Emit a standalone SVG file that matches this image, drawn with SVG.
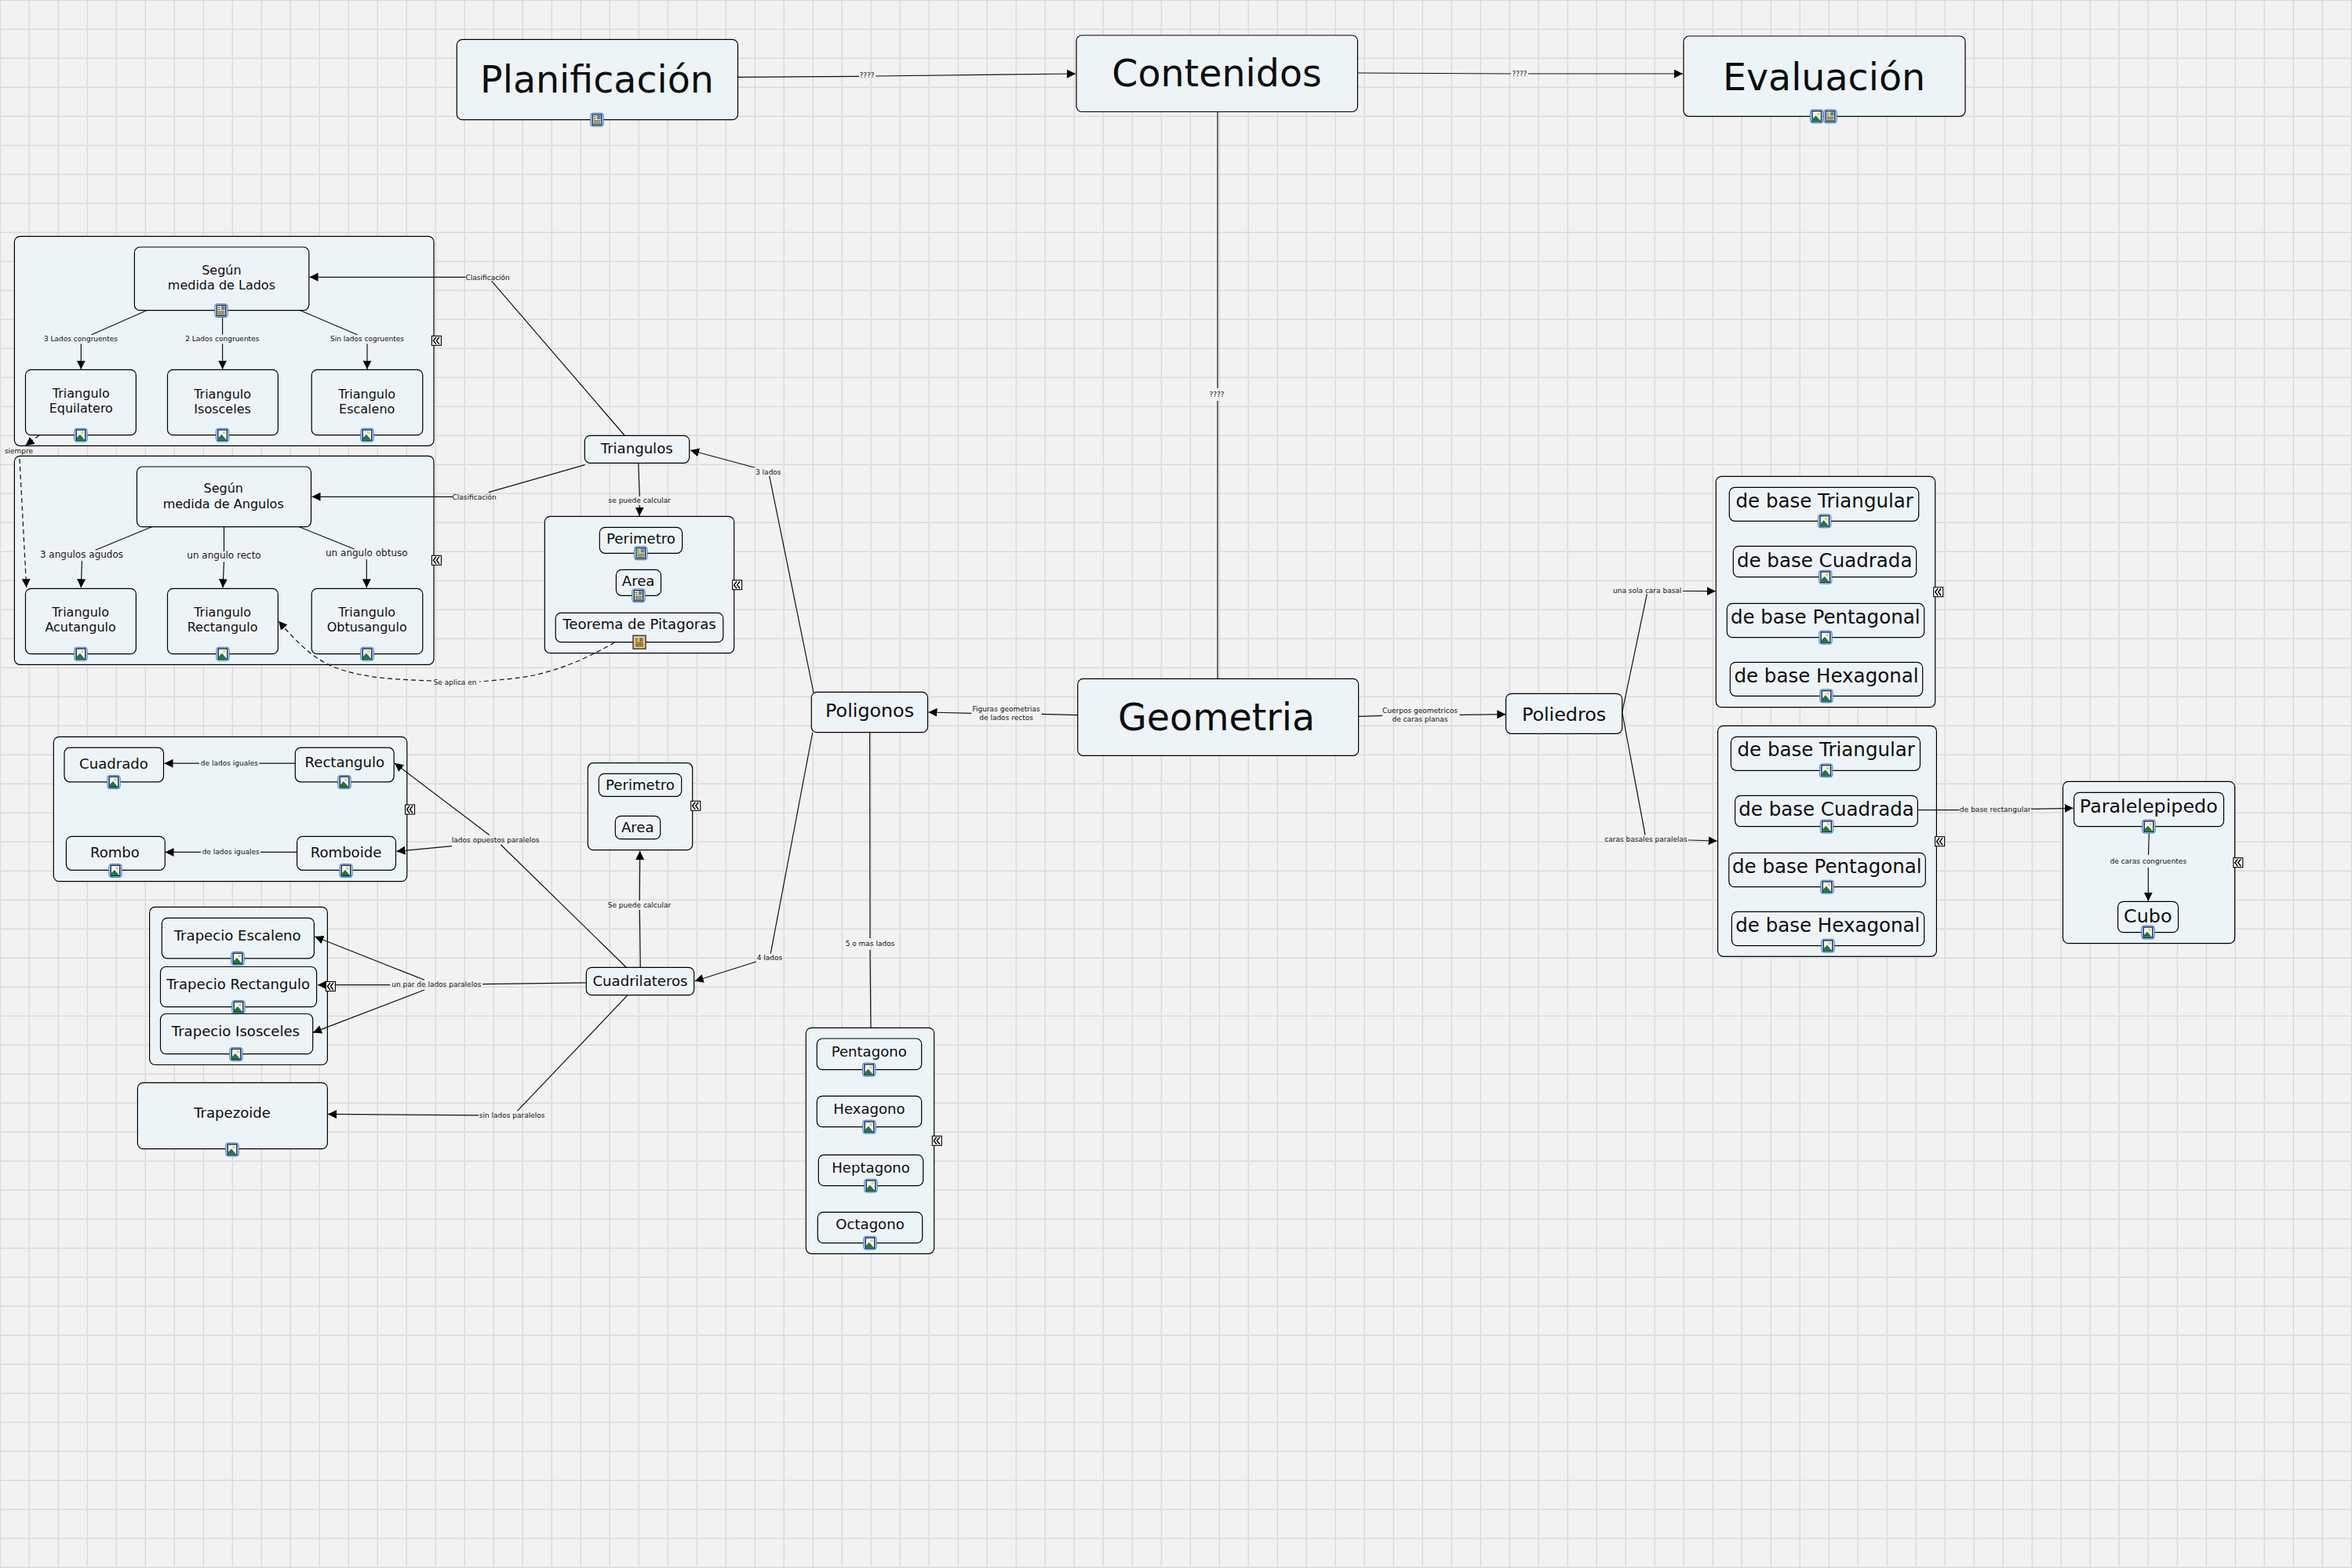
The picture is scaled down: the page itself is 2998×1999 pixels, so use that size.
<svg xmlns="http://www.w3.org/2000/svg" width="2998" height="1999" viewBox="0 0 2998 1999">
<style>
text{font-family:"DejaVu Sans",Verdana,sans-serif;text-anchor:middle;fill:#0d0d0d}
.n{fill:#edf4f7;stroke:#000;stroke-width:1.2}
.c path,.c line{fill:none;stroke:#111;stroke-width:1.2}
.a{marker-end:url(#arrow)}
.d{stroke-dasharray:6 4}
.t46{font-size:47.5px}.t25{font-size:24.5px}.t23{font-size:23.8px}.t18{font-size:18.1px}.t16{font-size:16px}.t12{font-size:12px;fill:#1a1a1a}.t9{font-size:9px;fill:#111}
</style>
<defs>
<pattern id="grid" width="37" height="37" patternUnits="userSpaceOnUse">
<rect x="0" y="0" width="1" height="37" fill="#d9d9d9"/><rect x="36" y="0" width="1" height="37" fill="#e8e8e8"/>
<rect x="0" y="0" width="37" height="1" fill="#d9d9d9"/><rect x="0" y="36" width="37" height="1" fill="#e8e8e8"/>
</pattern>
<marker id="arrow" markerUnits="userSpaceOnUse" markerWidth="12" markerHeight="12" refX="11" refY="5.500" orient="auto"><path d="M0 0L11 5.500L0 11Z" fill="#000"/></marker>
<g id="img"><rect x="-8.200" y="-8.500" width="16.400" height="17" rx="3" fill="#cfe2f7" stroke="#3d7fd6" stroke-width="1"/><rect x="-5.800" y="-6.700" width="11.600" height="13.400" fill="#f4f8fc" stroke="#0f2a55" stroke-width="1.400"/><circle cx="2" cy="-3" r="1.900" fill="#f3d34a"/><path d="M-5 6L-5 3L-1 -1L5 6Z" fill="#1f7a30"/></g>
<g id="note"><rect x="-8.200" y="-8.500" width="16.400" height="17" rx="3" fill="#cfe2f7" stroke="#3d7fd6" stroke-width="1"/><rect x="-5.800" y="-6.700" width="11.600" height="13.400" fill="#fdf6b8" stroke="#0f2a55" stroke-width="1.300"/><rect x="-.200" y="-5.700" width="4.800" height="5" fill="#5f7fa8"/><path d="M-4.500 -4H-1.500M-4.500 -1.500H-1.500M-4.500 1H4.500M-4.500 3H4.500M-4.500 5H4.500" stroke="#222" stroke-width=".9" fill="none"/></g>
<g id="gold"><rect x="-8" y="-8.500" width="16" height="17" fill="#f3c765" stroke="#1a2a4a" stroke-width="1.300"/><rect x="0" y="-5.500" width="4.500" height="5" fill="#6f6f85"/><path d="M-5 -4H-2M-5 -1.500H-2M-5 1H5M-5 3H5M-5 5H5" stroke="#222" stroke-width=".9" fill="none"/></g>
<g id="col"><rect x="-6" y="-6" width="12" height="12" fill="#fff" stroke="#000" stroke-width="1.100"/><path d="M-.5 -4.500L-4 0L-.5 4.500M3.500 -4.500L0 0L3.500 4.500" fill="none" stroke="#000" stroke-width="1.400"/></g>
</defs>
<rect width="2998" height="1999" fill="#f2f2f2"/>
<rect width="2998" height="1999" fill="url(#grid)"/>

<g id="containers">
<g id="box-lados"><rect class="n" x="18.400" y="301.300" width="534.600" height="267" rx="7"/></g>
<g id="box-angulos"><rect class="n" x="18.400" y="581.300" width="534.600" height="266" rx="7"/></g>
<g id="box-tri-calc"><rect class="n" x="694.300" y="658.300" width="241.400" height="174.400" rx="7"/></g>
<g id="box-cuadri-calc"><rect class="n" x="749.300" y="972.700" width="133.400" height="111" rx="7"/></g>
<g id="box-paralelogramos"><rect class="n" x="68.300" y="939.300" width="450.500" height="184.300" rx="7"/></g>
<g id="box-trapecios"><rect class="n" x="190.600" y="1156.400" width="226.800" height="201.100" rx="7"/></g>
<g id="box-poligonos"><rect class="n" x="1027.300" y="1310.300" width="163.400" height="288" rx="7"/></g>
<g id="box-piramides"><rect class="n" x="2187.300" y="607.300" width="279.400" height="294.400" rx="7"/></g>
<g id="box-prismas"><rect class="n" x="2189.600" y="925.300" width="278.800" height="294" rx="7"/></g>
<g id="box-paralelepipedo"><rect class="n" x="2629.500" y="996.300" width="219.100" height="206.400" rx="7"/></g>
</g>

<g id="connectors" class="c">
<line x1="940.500" y1="98.300" x2="1095" y2="97.300"/><line class="a" x1="1116" y1="97" x2="1371" y2="94"/>
<line x1="1730.500" y1="93" x2="1926" y2="94"/><line class="a" x1="1948" y1="94" x2="2145" y2="94"/>
<line x1="1552" y1="142.500" x2="1552" y2="495"/><line x1="1552" y1="511" x2="1552" y2="865.300"/>
<line x1="1373.700" y1="911.700" x2="1327.600" y2="910.300"/><line class="a" x1="1238.200" y1="909.300" x2="1183.500" y2="908"/>
<line x1="1731.600" y1="913.300" x2="1762" y2="912.300"/><line class="a" x1="1860.500" y1="911.300" x2="1919.300" y2="910.700"/>
<line x1="1037" y1="883" x2="980.700" y2="606.700"/><line class="a" x1="961.700" y1="596" x2="880" y2="574"/>
<line x1="1035.700" y1="934" x2="982.300" y2="1215.700"/><line class="a" x1="964" y1="1226" x2="885.700" y2="1250.700"/>
<line x1="1108.600" y1="933.700" x2="1109" y2="1196"/><line x1="1109" y1="1211" x2="1110" y2="1310.300"/>
<line x1="796" y1="555" x2="626.700" y2="358.300"/><line class="a" x1="593.300" y1="353.300" x2="394.500" y2="353.300"/>
<line x1="745.500" y1="592.700" x2="622.700" y2="627.700"/><line class="a" x1="576.700" y1="633.300" x2="397.500" y2="633.300"/>
<line x1="813.700" y1="590.300" x2="815.300" y2="632.700"/><line class="a" x1="815.300" y1="644" x2="815" y2="657.700"/>
<line x1="187" y1="395.700" x2="116.700" y2="426.700"/><line class="a" x1="103.300" y1="438.300" x2="103.300" y2="470.700"/>
<line x1="283.600" y1="395.700" x2="283.600" y2="426.700"/><line class="a" x1="283.600" y1="438.300" x2="283.600" y2="470.700"/>
<line x1="382.700" y1="395.700" x2="455.400" y2="426.700"/><line class="a" x1="468" y1="438.300" x2="468" y2="470.700"/>
<line x1="193.300" y1="671.700" x2="121.700" y2="701.300"/><line class="a" x1="104.500" y1="715" x2="103.300" y2="749.300"/>
<line x1="285.500" y1="671.700" x2="285.500" y2="703"/><line class="a" x1="285.500" y1="716.300" x2="284" y2="749.300"/>
<line x1="381.500" y1="671.700" x2="451.600" y2="700"/><line class="a" x1="467.300" y1="713" x2="467.300" y2="749.300"/>
<line class="a d" x1="50" y1="555" x2="32.500" y2="568"/><line class="a d" x1="25" y1="585" x2="33.700" y2="749"/>
<path class="a d" d="M550 868C510 866 470 866 430 852C400 842 375 815 355.100 791.700"/>
<path class="d" d="M783.600 819C750 838 720 852 680 861C660 865 635 867 611 869"/>
<line class="a" x1="376.300" y1="973.200" x2="330.400" y2="973.200" style="marker-end:none"/><line class="a" x1="254" y1="973.200" x2="209.500" y2="973.200"/>
<line x1="378.600" y1="1086.400" x2="332" y2="1086.400"/><line class="a" x1="256" y1="1086.400" x2="210.500" y2="1086.400"/>
<line x1="798.300" y1="1233.300" x2="638.400" y2="1077"/><line class="a" x1="623.700" y1="1064.600" x2="503" y2="972.900"/><line class="a" x1="576" y1="1078.600" x2="505.500" y2="1085.400"/>
<line x1="747.300" y1="1252.900" x2="615" y2="1254.600"/><line class="a" x1="497" y1="1255.700" x2="405" y2="1255.700"/><line class="a" x1="541" y1="1249.300" x2="401.300" y2="1194"/><line class="a" x1="541" y1="1262" x2="399" y2="1316.400"/>
<line x1="800" y1="1268.700" x2="659.400" y2="1416.400"/><line class="a" x1="610" y1="1421.800" x2="418" y2="1420.400"/>
<line x1="816.300" y1="1233.300" x2="815.300" y2="1160"/><line class="a" x1="815.300" y1="1148" x2="815.700" y2="1085"/>
<line x1="2067.700" y1="908" x2="2099.300" y2="757.300"/><line class="a" x1="2145" y1="753.500" x2="2186.700" y2="753.700"/>
<line x1="2067.700" y1="908" x2="2097" y2="1064.300"/><line class="a" x1="2152" y1="1071" x2="2188.600" y2="1072"/>
<line x1="2444.400" y1="1032.700" x2="2497.700" y2="1032.700"/><line class="a" x1="2589.200" y1="1031.300" x2="2642.600" y2="1030.300"/>
<line x1="2739.500" y1="1055" x2="2738.500" y2="1090"/><line class="a" x1="2738.300" y1="1106" x2="2738.300" y2="1148.700"/>
</g>

<g id="linking-labels">
<text class="t9" x="1105" y="99">????</text><text class="t9" x="1937" y="97">????</text><text class="t9" x="1551" y="506">????</text>
<text class="t9" x="1282.600" y="907">Figuras geometrias</text><text class="t9" x="1282.600" y="918">de lados rectos</text>
<text class="t9" x="1810" y="908.500">Cuerpos geometricos</text><text class="t9" x="1810" y="919.500">de caras planas</text>
<text class="t9" x="979.300" y="605">3 lados</text><text class="t9" x="981" y="1224">4 lados</text><text class="t9" x="1109" y="1206">5 o mas lados</text>
<text class="t9" x="621.700" y="356.500">Clasificación</text><text class="t9" x="604.700" y="636.500">Clasificación</text>
<text class="t9" x="815.300" y="641">se puede calcular</text><text class="t9" x="815" y="1157">Se puede calcular</text>
<text class="t9" x="103" y="435">3 Lados congruentes</text><text class="t9" x="283.300" y="435">2 Lados congruentes</text><text class="t9" x="468" y="435">Sin lados cogruentes</text>
<text class="t9" x="24" y="577.500">siempre</text><text class="t9" x="580" y="873">Se aplica en</text>
<text class="t12" x="104" y="711">3 angulos agudos</text><text class="t12" x="285.500" y="712">un angulo recto</text><text class="t12" x="467.300" y="709">un angulo obtuso</text>
<text class="t9" x="292.400" y="976">de lados iguales</text><text class="t9" x="294.200" y="1089">de lados iguales</text>
<text class="t9" x="631.700" y="1074">lados opuestos paralelos</text><text class="t9" x="556.300" y="1258">un par de lados paralelos</text><text class="t9" x="652.700" y="1425">sin lados paralelos</text>
<text class="t9" x="2099.700" y="756">una sola cara basal</text><text class="t9" x="2098" y="1073">caras basales paralelas</text><text class="t9" x="2543.200" y="1035">de base rectangular</text><text class="t9" x="2738.300" y="1101">de caras congruentes</text>
</g>

<g id="nodes">
<g id="n-planificacion"><rect class="n" x="582.300" y="50.300" width="358.200" height="102.400" rx="7"/><text class="t46" x="761" y="118.300">Planificación</text><use href="#note" x="761" y="152.700"/></g>
<g id="n-contenidos"><rect class="n" x="1372" y="45" width="358.500" height="97.500" rx="7"/><text class="t46" x="1551" y="110">Contenidos</text></g>
<g id="n-evaluacion"><rect class="n" x="2146" y="46" width="359" height="102.300" rx="7"/><text class="t46" x="2325" y="115">Evaluación</text><use href="#img" x="2315.700" y="148.300"/><use href="#note" x="2333" y="148.300"/></g>
<g id="n-geometria"><rect class="n" x="1373.700" y="865.300" width="357.900" height="98" rx="7"/><text class="t46" x="1550.600" y="930.700">Geometria</text></g>
<g id="n-poligonos"><rect class="n" x="1034.300" y="882.300" width="148.200" height="51.400" rx="7"/><text class="t23" x="1108.600" y="914">Poligonos</text></g>
<g id="n-poliedros"><rect class="n" x="1919.500" y="884.300" width="148.200" height="51" rx="7"/><text class="t23" x="1993.500" y="919">Poliedros</text></g>
<g id="n-triangulos"><rect class="n" x="745.300" y="555.300" width="133.400" height="35" rx="7"/><text class="t18" x="811.700" y="577.700">Triangulos</text></g>
<g id="n-cuadrilateros"><rect class="n" x="747.300" y="1233.300" width="137.400" height="35.400" rx="7"/><text class="t18" x="816" y="1257.300">Cuadrilateros</text></g>
<g id="n-seg-lados"><rect class="n" x="171.400" y="315" width="222.400" height="80.700" rx="7"/><text class="t16" x="282.400" y="350">Según</text><text class="t16" x="282.400" y="369.300">medida de Lados</text><use href="#note" x="282" y="396"/></g>
<g id="n-equilatero"><rect class="n" x="32.500" y="471.300" width="140.900" height="83.400" rx="7"/><text class="t16" x="103.300" y="506.700">Triangulo</text><text class="t16" x="103.300" y="526">Equilatero</text><use href="#img" x="103" y="554.700"/></g>
<g id="n-isosceles"><rect class="n" x="213.500" y="471.300" width="140.900" height="83.400" rx="7"/><text class="t16" x="283.600" y="507.700">Triangulo</text><text class="t16" x="283.600" y="527">Isosceles</text><use href="#img" x="283.600" y="554.700"/></g>
<g id="n-escaleno"><rect class="n" x="397.200" y="471.300" width="141.600" height="83.400" rx="7"/><text class="t16" x="467.700" y="507.700">Triangulo</text><text class="t16" x="467.700" y="527">Escaleno</text><use href="#img" x="468" y="554.700"/></g>
<g id="n-seg-angulos"><rect class="n" x="174.500" y="595" width="222" height="76.700" rx="7"/><text class="t16" x="284.700" y="628.300">Según</text><text class="t16" x="284.700" y="647.700">medida de Angulos</text></g>
<g id="n-acutangulo"><rect class="n" x="32.500" y="750.300" width="140.900" height="83.400" rx="7"/><text class="t16" x="102.600" y="785.700">Triangulo</text><text class="t16" x="102.600" y="805">Acutangulo</text><use href="#img" x="103" y="833.700"/></g>
<g id="n-rectangulo-t"><rect class="n" x="213.500" y="750.300" width="140.900" height="83.400" rx="7"/><text class="t16" x="283.600" y="785.700">Triangulo</text><text class="t16" x="283.600" y="805">Rectangulo</text><use href="#img" x="284" y="833.700"/></g>
<g id="n-obtusangulo"><rect class="n" x="397.200" y="750.300" width="141.600" height="83.400" rx="7"/><text class="t16" x="467.700" y="785.700">Triangulo</text><text class="t16" x="467.700" y="805">Obtusangulo</text><use href="#img" x="468" y="833.700"/></g>
<g id="n-perimetro-t"><rect class="n" x="764.300" y="672.300" width="105.300" height="33" rx="7"/><text class="t18" x="817" y="692.700">Perimetro</text><use href="#note" x="816.800" y="705.300"/></g>
<g id="n-area-t"><rect class="n" x="785.400" y="726.300" width="57.100" height="33" rx="7"/><text class="t18" x="813.600" y="746.700">Area</text><use href="#note" x="814" y="759.300"/></g>
<g id="n-pitagoras"><rect class="n" x="708.200" y="781.300" width="213.600" height="37.400" rx="7"/><text class="t18" x="815" y="802.300">Teorema de Pitagoras</text><use href="#gold" x="815" y="818.700"/></g>
<g id="n-perimetro-c"><rect class="n" x="763.300" y="986.300" width="105.400" height="29" rx="7"/><text class="t18" x="816" y="1006.700">Perimetro</text></g>
<g id="n-area-c"><rect class="n" x="784.300" y="1040.300" width="57.400" height="29.400" rx="7"/><text class="t18" x="812.700" y="1061">Area</text></g>
<g id="n-cuadrado"><rect class="n" x="82" y="953.200" width="126.500" height="43.600" rx="7"/><text class="t18" x="145" y="979.600">Cuadrado</text><use href="#img" x="145" y="997"/></g>
<g id="n-rectangulo"><rect class="n" x="376.300" y="953.200" width="125.900" height="43.600" rx="7"/><text class="t18" x="439.300" y="977.500">Rectangulo</text><use href="#img" x="439" y="997"/></g>
<g id="n-rombo"><rect class="n" x="84.400" y="1066.400" width="125.900" height="42.900" rx="7"/><text class="t18" x="146.400" y="1092.900">Rombo</text><use href="#img" x="147" y="1110"/></g>
<g id="n-romboide"><rect class="n" x="378.600" y="1066.400" width="125.900" height="42.900" rx="7"/><text class="t18" x="441" y="1092.900">Romboide</text><use href="#img" x="441" y="1110"/></g>
<g id="n-tr-escaleno"><rect class="n" x="206.300" y="1170.400" width="194.100" height="51.400" rx="7"/><text class="t18" x="302.700" y="1198.600">Trapecio Escaleno</text><use href="#img" x="303" y="1222"/></g>
<g id="n-tr-rectangulo"><rect class="n" x="204.500" y="1232.500" width="199.100" height="51.100" rx="7"/><text class="t18" x="303.600" y="1260.700">Trapecio Rectangulo</text><use href="#img" x="304" y="1284"/></g>
<g id="n-tr-isosceles"><rect class="n" x="204.500" y="1292.500" width="194.200" height="51.100" rx="7"/><text class="t18" x="300.400" y="1320.700">Trapecio Isosceles</text><use href="#img" x="301" y="1344"/></g>
<g id="n-trapezoide"><rect class="n" x="175.400" y="1380.400" width="242" height="84.200" rx="7"/><text class="t18" x="296" y="1424.600">Trapezoide</text><use href="#img" x="296" y="1465.600"/></g>
<g id="n-pentagono"><rect class="n" x="1041.300" y="1324" width="133.400" height="39.700" rx="7"/><text class="t18" x="1107.700" y="1346.700">Pentagono</text><use href="#img" x="1107.700" y="1363.700"/></g>
<g id="n-hexagono"><rect class="n" x="1041.300" y="1397.300" width="133.400" height="39.400" rx="7"/><text class="t18" x="1108" y="1419.700">Hexagono</text><use href="#img" x="1108" y="1436.700"/></g>
<g id="n-heptagono"><rect class="n" x="1043.300" y="1472.300" width="133.400" height="39.400" rx="7"/><text class="t18" x="1110" y="1495">Heptagono</text><use href="#img" x="1110" y="1511.700"/></g>
<g id="n-octagono"><rect class="n" x="1042.300" y="1545.300" width="133.400" height="39.400" rx="7"/><text class="t18" x="1109" y="1567.300">Octagono</text><use href="#img" x="1109" y="1584.700"/></g>
<g id="n-pi-triangular"><rect class="n" x="2204.300" y="621.300" width="241.400" height="43" rx="7"/><text class="t25" x="2325.700" y="647">de base Triangular</text><use href="#img" x="2325.700" y="664.300"/></g>
<g id="n-pi-cuadrada"><rect class="n" x="2209.300" y="696.300" width="233.400" height="39.400" rx="7"/><text class="t25" x="2325.700" y="722.700">de base Cuadrada</text><use href="#img" x="2326.700" y="735.700"/></g>
<g id="n-pi-pentagonal"><rect class="n" x="2201.300" y="769.300" width="251.400" height="43.400" rx="7"/><text class="t25" x="2326.700" y="795">de base Pentagonal</text><use href="#img" x="2327" y="812.700"/></g>
<g id="n-pi-hexagonal"><rect class="n" x="2205.300" y="844.300" width="245.400" height="43" rx="7"/><text class="t25" x="2328" y="870">de base Hexagonal</text><use href="#img" x="2328" y="887.300"/></g>
<g id="n-pr-triangular"><rect class="n" x="2206.400" y="939.300" width="241.100" height="43" rx="7"/><text class="t25" x="2327.700" y="964.300">de base Triangular</text><use href="#img" x="2327.700" y="982.300"/></g>
<g id="n-pr-cuadrada"><rect class="n" x="2211.600" y="1014.300" width="232.800" height="39.400" rx="7"/><text class="t25" x="2328" y="1040">de base Cuadrada</text><use href="#img" x="2328.500" y="1053.700"/></g>
<g id="n-pr-pentagonal"><rect class="n" x="2203.800" y="1087.300" width="250.500" height="43.400" rx="7"/><text class="t25" x="2328.800" y="1112.700">de base Pentagonal</text><use href="#img" x="2329" y="1130.700"/></g>
<g id="n-pr-hexagonal"><rect class="n" x="2207.400" y="1162.300" width="245.300" height="43.400" rx="7"/><text class="t25" x="2329.800" y="1187.700">de base Hexagonal</text><use href="#img" x="2330" y="1205.700"/></g>
<g id="n-paralelepipedo"><rect class="n" x="2643.600" y="1010.300" width="190.900" height="43.400" rx="7"/><text class="t23" x="2738.800" y="1035.700">Paralelepipedo</text><use href="#img" x="2739" y="1053.700"/></g>
<g id="n-cubo"><rect class="n" x="2699.600" y="1149.300" width="76.900" height="39.400" rx="7"/><text class="t23" x="2737.800" y="1175.700">Cubo</text><use href="#img" x="2738" y="1188.700"/></g>
</g>

<g id="collapse-controls">
<use href="#col" x="556.400" y="434.300"/><use href="#col" x="556.400" y="714.300"/><use href="#col" x="939.600" y="745.700"/><use href="#col" x="886.700" y="1027.300"/><use href="#col" x="522.500" y="1032"/><use href="#col" x="421.400" y="1257.500"/><use href="#col" x="1194.300" y="1454.300"/><use href="#col" x="2470.700" y="754.700"/><use href="#col" x="2472.600" y="1072.700"/><use href="#col" x="2852.800" y="1099.700"/>
</g>
</svg>
